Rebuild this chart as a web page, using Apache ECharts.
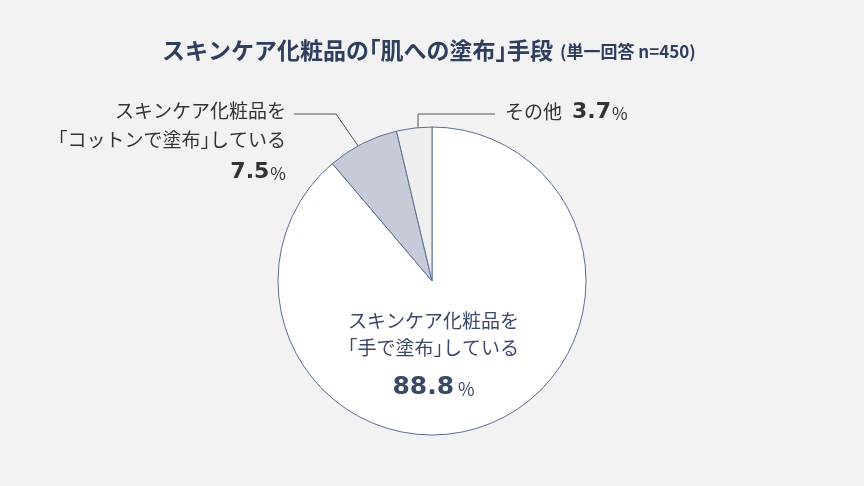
<!DOCTYPE html>
<html><head><meta charset="utf-8">
<script src="https://cdn.jsdelivr.net/npm/echarts@6/dist/echarts.min.js"></script>
<style>html,body{margin:0;padding:0;background:#f2f2f2}#c{width:864px;height:486px}</style>
</head><body><div id="c"></div>
<script>
var titleMain = 'スキンケア化粧品の「肌への塗布」手段';
var titleSub = '(単一回答 n=450)';
var categories = ['スキンケア化粧品を\n「手で塗布」している', 'スキンケア化粧品を\n「コットンで塗布」している', 'その他'];
var values = [88.8, 7.5, 3.7];
var colors = ['#ffffff', '#c6cbd7', '#efeff0'];

var FONT = '"Noto Sans CJK JP", "Noto Sans", sans-serif';
var NUMFONT = '"DejaVu Sans", "Liberation Sans", sans-serif';
var chart = echarts.init(document.getElementById('c'));

// Japanese text with proportional (half-width) corner brackets
function jp(text, key) {
  return '{' + key + '|' + text.replace(/「/g, '}{' + key + 'o|「}{' + key + '|').replace(/」/g, '}{' + key + 'c|」}{' + key + '|') + '}';
}
function jpStyles(key, size, color, weight, lh, align) {
  var o = {};
  var base = { fontSize: size, color: color, fontFamily: FONT, fontWeight: weight || 'normal', lineHeight: lh };
  if (align) base.align = align;
  var half = size / 2;
  o[key] = base;
  o[key + 'o'] = Object.assign({}, base, { padding: [0, 0, 0, -half] });
  o[key + 'c'] = Object.assign({}, base, { padding: [0, -half, 0, 0] });
  return o;
}
function twoLine(p, k) {
  var t = p.name.split('\n');
  return jp(t[0], k) + '\n' + jp(t[1], k);
}

var labels = [
  { show: true, position: 'inside', offset: [-26, 0], align: 'center',
    formatter: function (p) { return twoLine(p, 't') + '\n{v|' + p.value.toFixed(1) + '}{p|%}'; },
    rich: Object.assign(jpStyles('t', 19, '#3b4868', 'normal', 27, 'center'), {
      v: { fontSize: 25, fontWeight: 'bold', color: '#3b4868', fontFamily: NUMFONT, lineHeight: 44, padding: [8, 0, 0, 0], align: 'center' },
      p: { fontSize: 18, color: '#3b4868', fontFamily: FONT, lineHeight: 44, padding: [12, 0, 0, 4], align: 'center' } }) },
  { show: true, position: 'outside', align: 'right',
    formatter: function (p) { return twoLine(p, 't') + '\n{v|' + p.value.toFixed(1) + '}{p|%}'; },
    rich: Object.assign(jpStyles('t', 19, '#333333', 'normal', 29, 'right'), {
      v: { fontSize: 22, fontWeight: 'bold', color: '#333333', fontFamily: NUMFONT, lineHeight: 34, padding: [2, 0, 0, 0], align: 'right' },
      p: { fontSize: 17, color: '#333333', fontFamily: FONT, lineHeight: 34, padding: [6, 0, 0, 1], align: 'right' } }) },
  { show: true, position: 'outside', align: 'left',
    formatter: function (p) { return '{t|' + p.name + '}{s| }{v|' + p.value.toFixed(1) + '}{p|%}'; },
    rich: { t: { fontSize: 19, color: '#333333', fontFamily: FONT, lineHeight: 30 },
            s: { fontSize: 19, fontFamily: FONT, lineHeight: 30, width: 10 },
            v: { fontSize: 22, fontWeight: 'bold', color: '#333333', fontFamily: NUMFONT, lineHeight: 30 },
            p: { fontSize: 17, color: '#333333', fontFamily: FONT, lineHeight: 30, padding: [4, 0, 0, 1] } } }
];

var data = values.map(function (v, i) {
  return { name: categories[i], value: v, itemStyle: { color: colors[i] }, label: labels[i], labelLine: { show: false } };
});

var titleRich = Object.assign(jpStyles('a', 23, '#2f3d5e', 'bold', 30), {
  g: { fontSize: 17, width: 7, lineHeight: 30 },
  b: { fontSize: 17, fontWeight: 'bold', color: '#2f3d5e', fontFamily: FONT, lineHeight: 30, padding: [3, 0, 0, 0] }
});

chart.setOption({
  backgroundColor: '#f2f2f2',
  animation: false,
  title: {
    text: jp(titleMain, 'a') + '{g| }{b|' + titleSub + '}',
    left: 157, top: 30,
    textStyle: { rich: titleRich }
  },
  series: [{
    type: 'pie',
    center: [432, 281],
    radius: 154,
    startAngle: 90,
    clockwise: true,
    silent: true,
    itemStyle: { borderColor: '#5a6d98', borderWidth: 1 },
    labelLayout: function (p) {
      if (p.dataIndex === 1) return { x: 286, y: 142, align: 'right', verticalAlign: 'middle' };
      if (p.dataIndex === 2) return { x: 505, y: 112, align: 'left', verticalAlign: 'middle' };
      return {};
    },
    data: data
  }],
  graphic: [
    { type: 'polyline', silent: true, shape: { points: [[294, 114], [336, 114], [363, 153]] }, style: { stroke: '#555555', lineWidth: 1, fill: null } },
    { type: 'polyline', silent: true, shape: { points: [[495, 114], [418, 114], [418, 154]] }, style: { stroke: '#555555', lineWidth: 1, fill: null } }
  ]
});
</script></body></html>
